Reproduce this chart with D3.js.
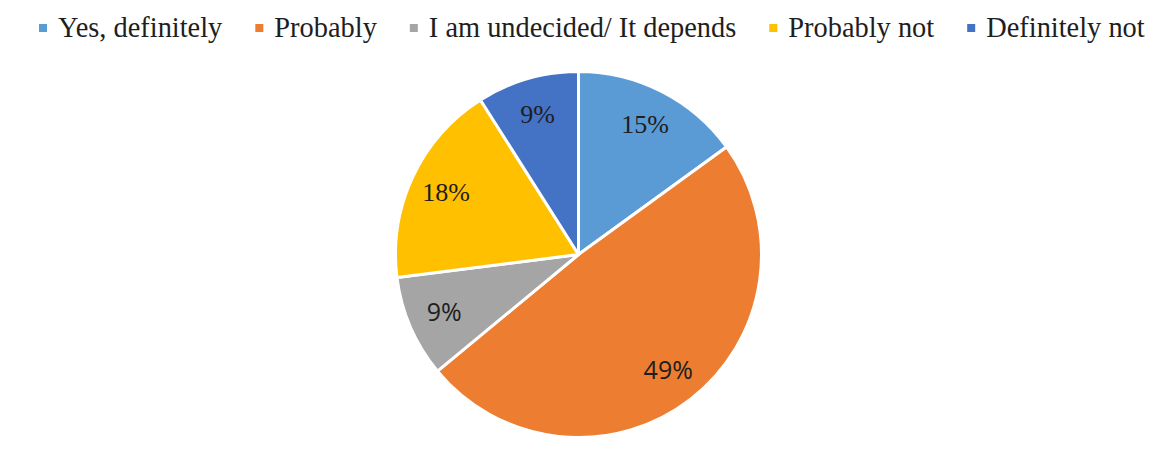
<!DOCTYPE html>
<html>
<head>
<meta charset="utf-8">
<script src="https://cdn.jsdelivr.net/npm/d3@7"></script>
<style>
  html, body { margin: 0; padding: 0; background: #fff; }
  svg { display: block; }
  .serif { font-family: "Liberation Serif", Tinos, "Times New Roman", Times, "DejaVu Serif", serif; }
  .sans { font-family: "Open Sans", "Noto Sans", sans-serif; }
</style>
</head>
<body>
<svg id="chart" width="1153" height="455"></svg>
<script>
// Survey answers and their shares (percent)
const categories = ["Yes, definitely", "Probably", "I am undecided/ It depends", "Probably not", "Definitely not"];
const shares = [15, 49, 9, 18, 9];
const colors = ["#5b9bd5", "#ed7d31", "#a5a5a5", "#ffc000", "#4472c4"];
// Label typefaces per slice
const labelFonts = ["serif", "sans", "sans", "serif", "serif"];

const data = categories.map((c, i) => ({ name: c, value: shares[i], color: colors[i], font: labelFonts[i] }));

const svg = d3.select("#chart");
const cx = 578.5, cy = 254.5, r = 183;

// Legend along the top: swatch, then label, items separated by a fixed gap
const legend = svg.append("g").attr("class", "legend");
let tx = 58;
data.forEach(d => {
  const g = legend.append("g");
  g.append("rect")
    .attr("x", tx - 19).attr("y", 24)
    .attr("width", 8).attr("height", 8)
    .attr("fill", d.color);
  const t = g.append("text")
    .attr("class", "serif")
    .attr("x", tx).attr("y", 37)
    .attr("font-size", 28.4)
    .attr("fill", "#1e1e1e")
    .text(d.name);
  tx += t.node().getComputedTextLength() + 52;
});

// Pie
const pie = d3.pie().value(d => d.value).sort(null);
const arc = d3.arc().innerRadius(0).outerRadius(r);
const labelArc = d3.arc().innerRadius(r * 0.8).outerRadius(r * 0.8);

const g = svg.append("g").attr("transform", `translate(${cx},${cy})`);
const arcs = pie(data);

g.selectAll("path.slice")
  .data(arcs)
  .join("path")
  .attr("class", "slice")
  .attr("d", arc)
  .attr("fill", d => d.data.color)
  .attr("stroke", "#fff")
  .attr("stroke-width", 3)
  .attr("stroke-linejoin", "round");

g.selectAll("text.pct")
  .data(arcs)
  .join("text")
  .attr("class", d => "pct " + d.data.font)
  .attr("transform", d => `translate(${labelArc.centroid(d)})`)
  .attr("text-anchor", "middle")
  .attr("dy", "0.35em")
  .attr("font-size", d => d.data.font === "serif" ? 26 : 25)
  .attr("fill", "#1e1e1e")
  .text(d => d.data.value + "%");
</script>
</body>
</html>
